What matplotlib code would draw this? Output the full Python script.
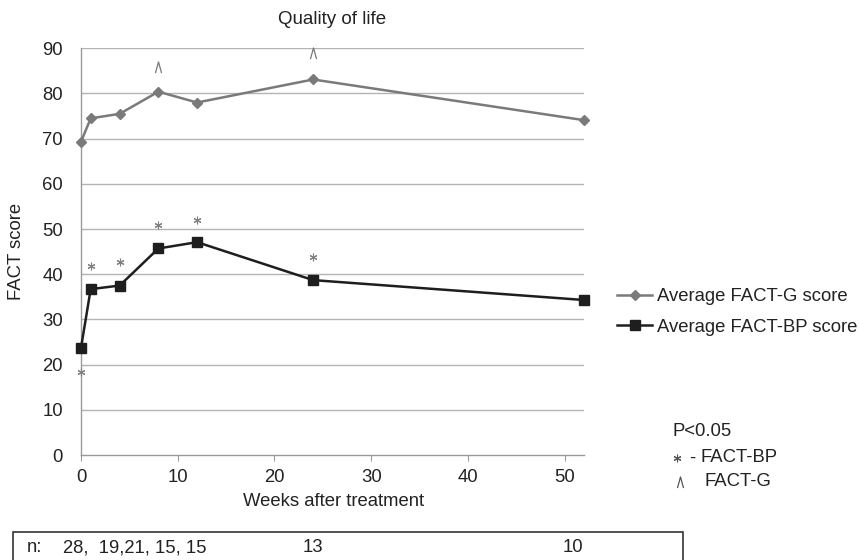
import matplotlib
matplotlib.use("Agg")
import matplotlib.pyplot as plt
from matplotlib.path import Path
from matplotlib.patches import Rectangle
from matplotlib.lines import Line2D

plt.rcParams['font.family'] = ['Liberation Sans', 'DejaVu Sans']

# ---- data ----
weeks = [0, 1, 4, 8, 12, 24, 52]
fact_g = [69.3, 74.5, 75.5, 80.4, 78.0, 83.1, 74.1]
fact_bp = [23.7, 36.7, 37.5, 45.7, 47.1, 38.7, 34.3]
# significance marks (P<0.05)
bp_sig_weeks = [0, 1, 4, 8, 12, 24]
bp_sig_y = [18.3, 41.9, 42.8, 50.9, 52.0, 43.8]
g_sig_weeks = [8, 24]
g_sig_y = [85.9, 88.9]
x_ticks = [0, 10, 20, 30, 40, 50]
y_ticks = [0, 10, 20, 30, 40, 50, 60, 70, 80, 90]
n_labels = ["28,  19,21, 15, 15", "13", "10"]
series_names = ["Average FACT-G score", "Average FACT-BP score"]

W, H = 859, 560
fig = plt.figure(figsize=(W / 100, H / 100), dpi=100)

def fx(x):
    return x / W

def fy(y):
    return 1 - y / H

FS = 13.3

L, R, T, B = 81, 584, 48.3, 455
ax = fig.add_axes([fx(L), fy(B), (R - L) / W, (B - T) / H])
ax.set_xlim(0, 52)
ax.set_ylim(0, 90)

text_c = '#222222'
grid_c = '#b4b4b4'
axis_c = '#9a9a9a'

for y in y_ticks[1:]:
    ax.axhline(y, color=grid_c, lw=1.0, zorder=0)

for s in ['top', 'right']:
    ax.spines[s].set_visible(False)
for s in ['left', 'bottom']:
    ax.spines[s].set_color(axis_c)
    ax.spines[s].set_linewidth(1.0)

ax.set_xticks(x_ticks)
ax.set_yticks(y_ticks)
ax.tick_params(axis='y', length=0, pad=13, labelsize=FS, labelcolor=text_c)
ax.tick_params(axis='x', length=4, width=0.8, color=axis_c, pad=6,
               labelsize=FS, labelcolor=text_c, direction='out')

l1, = ax.plot(weeks, fact_g, color='#7a7a7a', lw=1.8, marker='D', ms=5.5,
              mfc='#7a7a7a', mec='#7a7a7a', zorder=3, clip_on=False)
l2, = ax.plot(weeks, fact_bp, color='#1e1e1e', lw=1.8, marker='s', ms=7,
              mfc='#1e1e1e', mec='#1e1e1e', zorder=4, clip_on=False)

ax.plot(bp_sig_weeks, bp_sig_y, linestyle='none', marker=(6, 2, 0), ms=5.5,
        mec='#808080', mew=0.8, zorder=5, clip_on=False)
chev = Path([(-0.55, -1), (0, 1), (0.55, -1)], [Path.MOVETO, Path.LINETO, Path.LINETO])
ax.plot(g_sig_weeks, g_sig_y, linestyle='none', marker=chev, ms=8,
        mfc='none', mec='#777777', mew=0.9, zorder=5, clip_on=False)

fig.text(fx(332.5), fy(20), "Quality of life", ha='center', va='center',
         fontsize=13.5, color=text_c)
fig.text(fx(17), fy(251.5), "FACT score", ha='center', va='center',
         rotation=90, fontsize=FS, color=text_c)
fig.text(fx(334), fy(501), "Weeks after treatment", ha='center', va='center',
         fontsize=FS, color=text_c)

leg = fig.legend([l1, l2], series_names, loc='center left',
                 bbox_to_anchor=(fx(617), fy(312)), frameon=False,
                 fontsize=FS, handlelength=1.9, handletextpad=0.27,
                 labelspacing=0.72, borderpad=0, borderaxespad=0)
for t in leg.get_texts():
    t.set_color(text_c)

# P<0.05 key
fig.text(fx(672), fy(432), "P<0.05", ha='left', va='center', fontsize=FS, color=text_c)
fig.add_artist(Line2D([fx(677)], [fy(458)], marker=(6, 2, 0), ms=5.5,
                      mec='#555555', mew=0.8, linestyle='none'))
fig.text(fx(689), fy(458), "-", ha='left', va='center', fontsize=FS, color=text_c)
fig.text(fx(701), fy(458), "FACT-BP", ha='left', va='center', fontsize=FS, color=text_c)
fig.add_artist(Line2D([fx(680)], [fy(482)], marker=chev, ms=8, mfc='none',
                      mec='#555555', mew=0.9, linestyle='none'))
fig.text(fx(705), fy(482), "FACT-G", ha='left', va='center', fontsize=FS, color=text_c)

# n box
fig.add_artist(Rectangle((fx(13), fy(575)), (683 - 13) / W, (575 - 532) / H,
                         transform=fig.transFigure, fill=False,
                         edgecolor='#333333', lw=1.2, clip_on=False))
fig.text(fx(27), fy(548), "n:", ha='left', va='center', fontsize=FS, color=text_c)
fig.text(fx(63), fy(548), n_labels[0], ha='left', va='center', fontsize=FS, color=text_c)
fig.text(fx(313), fy(548), n_labels[1], ha='center', va='center', fontsize=FS, color=text_c)
fig.text(fx(573), fy(548), n_labels[2], ha='center', va='center', fontsize=FS, color=text_c)

fig.savefig("out.png", dpi=100)
